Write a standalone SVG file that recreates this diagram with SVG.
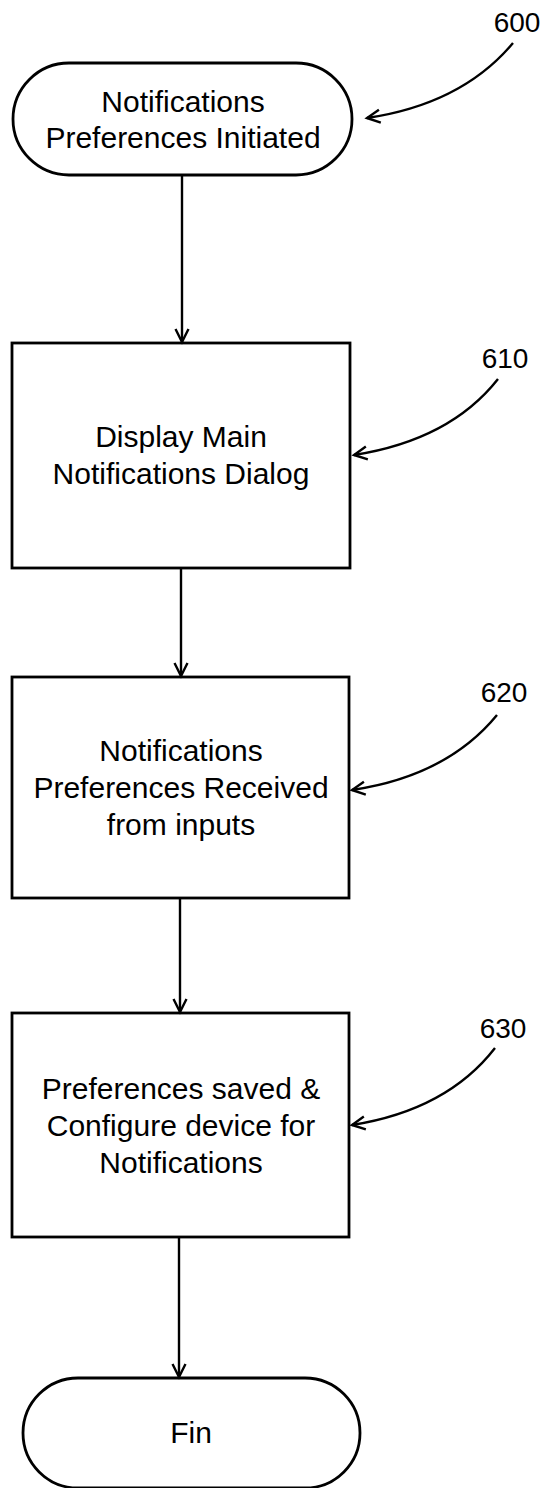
<svg xmlns="http://www.w3.org/2000/svg" width="549" height="1488" viewBox="0 0 549 1488">
<style>
.node{fill:#fff;stroke:#000;stroke-width:2.8}
.t{font-family:"Liberation Sans",Arial,sans-serif;font-size:30px;fill:#000;text-anchor:middle}
.lbl{font-family:"Liberation Sans",Arial,sans-serif;font-size:28px;fill:#000;text-anchor:middle}
.c{fill:none;stroke:#000;stroke-width:2.4}
</style>
<defs>
<marker id="ah" markerUnits="userSpaceOnUse" markerWidth="30" markerHeight="30" viewBox="-15 -15 30 30" refX="0" refY="0" orient="auto">
<path d="M-13,-6.5 L0,0 L-13,6.5" fill="none" stroke="#000" stroke-width="2.4"/>
</marker>
</defs>
<rect width="549" height="1488" fill="#fff"/>
<g id="n600">
<rect class="node" x="13" y="63" width="339" height="112" rx="56" ry="56"/>
<text class="t" x="183" y="112">Notifications</text>
<text class="t" x="183" y="148">Preferences Initiated</text>
</g>
<g id="n610">
<rect class="node" x="12" y="343" width="338" height="225"/>
<text class="t" x="181" y="447">Display Main</text>
<text class="t" x="181" y="484">Notifications Dialog</text>
</g>
<g id="n620">
<rect class="node" x="12" y="677" width="337" height="221"/>
<text class="t" x="181" y="761">Notifications</text>
<text class="t" x="181" y="798">Preferences Received</text>
<text class="t" x="181" y="835">from inputs</text>
</g>
<g id="n630">
<rect class="node" x="12" y="1013" width="337" height="224"/>
<text class="t" x="181" y="1099">Preferences saved &amp;</text>
<text class="t" x="181" y="1136">Configure device for</text>
<text class="t" x="181" y="1173">Notifications</text>
</g>
<g id="nfin">
<rect class="node" x="23" y="1378" width="337" height="110" rx="55" ry="55"/>
<text class="t" x="191" y="1443">Fin</text>
</g>
<g id="labels">
<text class="lbl" x="517" y="32">600</text>
<text class="lbl" x="505" y="368">610</text>
<text class="lbl" x="504" y="702">620</text>
<text class="lbl" x="503" y="1038">630</text>
</g>
<g id="connectors">
<line class="c" x1="182" y1="175" x2="182" y2="342" marker-end="url(#ah)"/>
<line class="c" x1="181" y1="568" x2="181" y2="676" marker-end="url(#ah)"/>
<line class="c" x1="180" y1="898" x2="180" y2="1012" marker-end="url(#ah)"/>
<line class="c" x1="179" y1="1237" x2="179" y2="1377" marker-end="url(#ah)"/>
<path class="c" d="M513,43 Q462,104 367,118" marker-end="url(#ah)"/>
<path class="c" d="M498,379 Q450,440 354,455" marker-end="url(#ah)"/>
<path class="c" d="M497,715 Q447,776 352,790" marker-end="url(#ah)"/>
<path class="c" d="M495,1048 Q447,1110 352,1125" marker-end="url(#ah)"/>
</g>
</svg>
